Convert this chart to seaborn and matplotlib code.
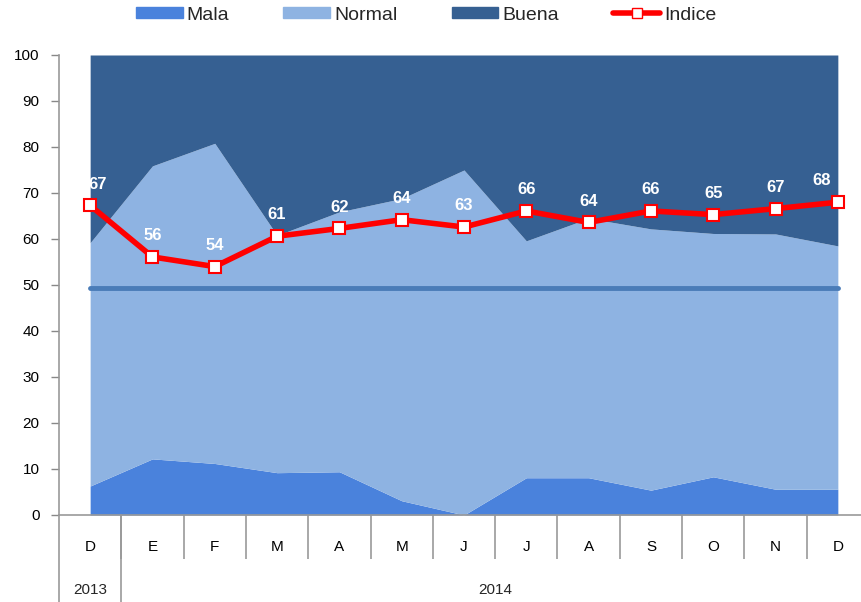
import matplotlib
matplotlib.use("Agg")
import matplotlib.pyplot as plt
import seaborn as sns
import pandas as pd
import numpy as np
from matplotlib.lines import Line2D
from matplotlib.patches import Patch
import matplotlib.transforms as mtransforms

months = ["D", "E", "F", "M", "A", "M", "J", "J", "A", "S", "O", "N", "D"]
years = ["2013", "2014"]
mala = [6.3, 12.2, 11.2, 9.2, 9.4, 3.1, 0.0, 8.1, 8.1, 5.4, 8.3, 5.6, 5.6]
normal = [52.9, 63.7, 69.6, 51.6, 56.5, 65.7, 75.0, 51.5, 56.4, 56.8, 52.9, 55.5, 52.9]
buena = [40.8, 24.1, 19.2, 39.2, 34.1, 31.2, 25.0, 40.4, 35.5, 37.8, 38.8, 38.9, 41.5]
indice = [67.3, 56.1, 54.0, 60.6, 62.3, 64.2, 62.6, 66.1, 63.6, 66.1, 65.3, 66.6, 68.0]
referencia = 49.3

sns.set_theme(style="white")
plt.rcParams['font.family'] = ['Liberation Sans', 'DejaVu Sans']

c_mala = "#4a82dc"
c_normal = "#8eb3e2"
c_buena = "#366092"
c_ref = "#4a7cb8"

W, H = 862, 602
fig = plt.figure(figsize=(W / 100, H / 100), dpi=100)
left, right, top, bottom = 59, 869, 55, 515
ax = fig.add_axes([left / W, (H - bottom) / H, (right - left) / W, (bottom - top) / H])

x = np.arange(len(months))
df = pd.DataFrame({"x": x, "Indice": indice, "ref": [referencia] * len(x)})

ax.stackplot(x, mala, normal, buena, colors=[c_mala, c_normal, c_buena], linewidth=0)
sns.lineplot(data=df, x="x", y="ref", ax=ax, color=c_ref, linewidth=3.5, zorder=3)
sns.lineplot(data=df, x="x", y="Indice", ax=ax, color="#ff0000", linewidth=4,
             marker="s", markersize=8, markerfacecolor="white", markeredgecolor="#ff0000",
             markeredgewidth=1.5, zorder=4)

n = len(indice)
for i, (xi, v) in enumerate(zip(x, indice)):
    if i == 0:
        ha, dx = "left", -1
    elif i == n - 1:
        ha, dx = "right", -5
    else:
        ha, dx = "center", 0
    ax.annotate(f"{v:.0f}", (xi, v), xytext=(dx, 10), textcoords="offset points",
                ha=ha, va="bottom", color="white", fontsize=12, fontweight="bold", zorder=5)

ax.set_xlim(-0.5, len(months) - 0.5)
ax.set_ylim(0, 100)
ax.set_xlabel("")
ax.set_ylabel("")
ax.set_yticks(range(0, 101, 10))
ax.tick_params(axis="y", labelsize=11, length=6, width=1, color="#888888", left=True,
               direction="out", pad=8, labelcolor="#000000")

ax.set_xticks(x)
ax.set_xticklabels(months)
ax.tick_params(axis="x", which="major", length=0, pad=18, labelsize=11, labelcolor="#000000")
ax.set_xticks(np.arange(0.5, len(months) - 0.5, 1), minor=True)
ax.tick_params(axis="x", which="minor", length=32, width=1.2, color="#999999", bottom=True, direction="out")

for s in ["top", "right"]:
    ax.spines[s].set_visible(False)
for s in ["left", "bottom"]:
    ax.spines[s].set_color("#999999")
    ax.spines[s].set_linewidth(1.2)

# year row separators and labels
trans = mtransforms.blended_transform_factory(ax.transData, fig.transFigure)
for xv in [-0.5, 0.5]:
    ax.add_line(Line2D([xv, xv], [0, (H - bottom) / H], transform=trans, color="#999999",
                       linewidth=1.2, clip_on=False))
ax.text(0, (H - 590) / H, years[0], transform=trans, ha="center", va="center", fontsize=11)
ax.text((0.5 + len(months) - 0.5) / 2, (H - 590) / H, years[1], transform=trans,
        ha="center", va="center", fontsize=11)

handles = [Patch(color=c_mala, label="Mala"), Patch(color=c_normal, label="Normal"),
           Patch(color=c_buena, label="Buena"),
           Line2D([0], [0], color="#ff0000", linewidth=4, marker="s", markersize=7,
                  markerfacecolor="white", markeredgecolor="#ff0000", label="Indice")]
fig.legend(handles=handles, loc="center", bbox_to_anchor=(426 / W, 1 - 15 / H), ncol=4,
           frameon=False, fontsize=14, handlelength=2.4, handleheight=0.5,
           columnspacing=2.8, handletextpad=0.2)

fig.savefig("out.png", dpi=100)
